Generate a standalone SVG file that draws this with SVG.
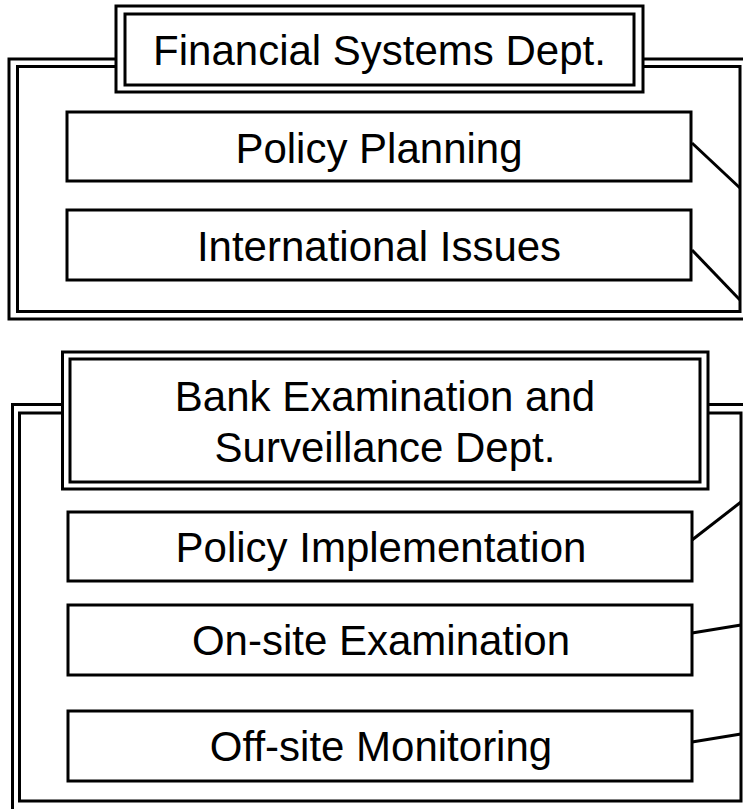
<svg xmlns="http://www.w3.org/2000/svg" width="743" height="809" viewBox="0 0 743 809">
<style>
.frame{fill:none;stroke:#000;stroke-width:3}
.box{fill:#fff;stroke:#000;stroke-width:3}
.title{fill:#fff;stroke:#000;stroke-width:3}
.lbl{font-family:"Liberation Sans",Arial,sans-serif;font-size:42px;fill:#000;text-anchor:middle}
.conn{stroke:#000;stroke-width:3;fill:none}
</style>
<rect width="743" height="809" fill="#fff"/>
<g id="group-financial">
  <rect class="frame" x="9" y="59" width="760" height="260"/>
  <rect class="frame" x="17.5" y="66.5" width="722.5" height="245"/>
</g>
<g id="group-bank">
  <rect class="frame" x="12.5" y="404.5" width="760" height="440"/>
  <path class="frame" d="M19.5,413 H741 V801 H19.5 Z"/>
</g>
<g id="connectors">
  <line class="conn" x1="692" y1="143" x2="740" y2="188"/>
  <line class="conn" x1="692" y1="250" x2="740" y2="300"/>
  <line class="conn" x1="692" y1="540" x2="741" y2="502"/>
  <line class="conn" x1="692" y1="633" x2="741" y2="625"/>
  <line class="conn" x1="692" y1="742" x2="741" y2="734"/>
</g>
<g id="financial-systems-dept">
  <rect class="title" x="116" y="6" width="527" height="86"/>
  <rect class="title" x="125" y="14" width="509" height="71"/>
  <text class="lbl" x="379.5" y="65">Financial Systems Dept.</text>
</g>
<g id="policy-planning">
  <rect class="box" x="67" y="112" width="624" height="69"/>
  <text class="lbl" x="379" y="163">Policy Planning</text>
</g>
<g id="international-issues">
  <rect class="box" x="67" y="210" width="624" height="70"/>
  <text class="lbl" x="379" y="261">International Issues</text>
</g>
<g id="bank-examination-dept">
  <rect class="title" x="62.5" y="352" width="645.5" height="137"/>
  <rect class="title" x="70" y="359" width="630" height="123"/>
  <text class="lbl" x="385" y="411">Bank Examination and</text>
  <text class="lbl" x="385" y="461.5">Surveillance Dept.</text>
</g>
<g id="policy-implementation">
  <rect class="box" x="68" y="512" width="624" height="69"/>
  <text class="lbl" x="381" y="561.5">Policy Implementation</text>
</g>
<g id="on-site-examination">
  <rect class="box" x="68" y="605" width="624" height="70"/>
  <text class="lbl" x="381" y="655">On-site Examination</text>
</g>
<g id="off-site-monitoring">
  <rect class="box" x="68" y="711" width="624" height="70"/>
  <text class="lbl" x="381" y="760.5">Off-site Monitoring</text>
</g>
</svg>
